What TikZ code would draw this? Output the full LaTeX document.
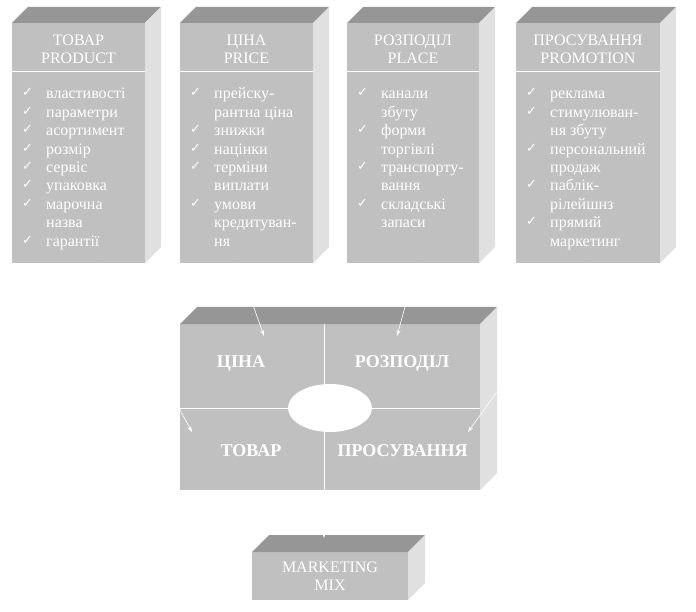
\documentclass[tikz,border=0pt]{standalone}
\usepackage{fontspec}
\setmainfont{Liberation Serif}
\newfontfamily\chkfont{DejaVu Sans}
\usetikzlibrary{
        arrows.meta,
        shapes.geometric
    }
\definecolor{frontgray}{RGB}{192,192,192}
\definecolor{topgray}{RGB}{150,150,150}
\definecolor{sidegray}{RGB}{224,224,224}
\tikzset{x=1pt,y=-1pt}
\tikzset{
    frontface/.style={fill=frontgray},
    topface/.style={fill=topgray},
    sideface/.style={fill=sidegray},
    head/.style={text=white,font=\fontsize{16}{18}\selectfont,align=center,inner sep=0pt,anchor=north},
    itm/.style={text=white,font=\fontsize{16}{18}\selectfont,inner sep=0pt,anchor=base west},
    chk/.style={text=white,font=\chkfont\fontsize{13}{14}\selectfont,inner sep=0pt,anchor=base west},
    part/.style={text=white,font=\bfseries\fontsize{18}{20}\selectfont,inner sep=0pt,anchor=base},
    mixtext/.style={text=white,font=\fontsize{16}{18}\selectfont,inner sep=0pt,anchor=base},
    sepline/.style={white,line width=1pt},
    feed/.style={white,line width=0.6pt,-{Stealth[length=6pt,width=4pt]}}
}
% box seen from above right: left, top, right, bottom, depth
\newcommand\prism[5]{%
    \fill[frontface] (#1,#2) rectangle (#3,#4);
    \fill[topface] (#1,#2) -- (#1+#5,#2-#5) -- (#3+#5,#2-#5) -- (#3,#2) -- cycle;
    \fill[sideface] (#3,#2) -- (#3+#5,#2-#5) -- (#3+#5,#4-#5) -- (#3,#4) -- cycle;
}
% list of a box: name, left edge, items (1 = with tick)
\newcommand\ticklist[3]{%
    \foreach \ck/\txt [count=\n] in {#3} {
        \ifnum\ck=1 \node[chk] (#1-c\n) at (#2+10,78.6+18.4*\n) {✓};\fi
        \node[itm] (#1-\n) at (#2+34,80.6+18.4*\n) {\txt};
    }%
}

\begin{document}
\begin{tikzpicture}
    \useasboundingbox (0,0) rectangle (696,612);

    % the four boxes
    \prism{12}{23}{145}{263}{16}
    \prism{180}{23}{313}{263}{16}
    \prism{347}{23}{479}{263}{16}
    \prism{516}{23}{660}{263}{16}
    \draw[sepline] (12,72) -- (145,72);
    \draw[sepline] (180,72) -- (313,72);
    \draw[sepline] (347,72) -- (479,72);
    \draw[sepline] (516,72) -- (660,72);

    \node[head] (product) at (78.5,35) {ТОВАР\\PRODUCT};
    \node[head] (price)   at (246.5,35) {ЦІНА\\PRICE};
    \node[head] (place)   at (413,35) {РОЗПОДІЛ\\PLACE};
    \node[head] (promo)   at (588,35) {ПРОСУВАННЯ\\PROMOTION};

    \ticklist{pr}{12}{1/властивості,1/параметри,1/асортимент,1/розмір,1/сервіс,1/упаковка,1/марочна,0/назва,1/гарантії}
    \ticklist{pc}{180}{1/прейску-,0/рантна ціна,1/знижки,1/націнки,1/терміни,0/виплати,1/умови,0/кредитуван-,0/ня}
    \ticklist{pl}{347}{1/канали,0/збуту,1/форми,0/торгівлі,1/транспорту-,0/вання,1/складські,0/запаси}
    \ticklist{pm}{516}{1/реклама,1/стимулюван-,0/ня збуту,1/персональний,0/продаж,1/паблік-,0/рілейшнз,1/прямий,0/маркетинг}

    % the mix
    \prism{180}{324}{480}{490}{17}
    \draw[sepline] (324,324) -- (324,490);
    \draw[sepline] (180,408) -- (480,408);
    \node[ellipse,fill=white,minimum width=84pt,minimum height=48pt,inner sep=0pt] (core) at (330,408) {};

    \node[part] (m-price)   at (241,367) {ЦІНА};
    \node[part] (m-place)   at (402,367) {РОЗПОДІЛ};
    \node[part] (m-product) at (251,456) {ТОВАР};
    \node[part] (m-promo)   at (402.5,456) {ПРОСУВАННЯ};

    \prism{252}{552}{408}{600}{17}
    \node[mixtext] (mix1) at (330,572) {MARKETING};
    \node[mixtext] (mix2) at (330,590) {MIX};

    \coordinate (price-out)   at (238,263);
    \coordinate (price-in)    at (264,336);
    \coordinate (place-out)   at (417,263);
    \coordinate (place-in)    at (397,336);
    \coordinate (product-out) at (100,263);
    \coordinate (product-in)  at (192,432);
    \coordinate (promo-out)   at (590,263);
    \coordinate (promo-in)    at (468,432);
    \coordinate (mix-out)     at (324,490);
    \coordinate (mix-in)      at (324,538);
    \path[feed]
        (price-out)   edge (price-in)
        (place-out)   edge (place-in)
        (product-out) edge (product-in)
        (promo-out)   edge (promo-in)
        (mix-out)     edge (mix-in)
    ;
\end{tikzpicture}
\end{document}
